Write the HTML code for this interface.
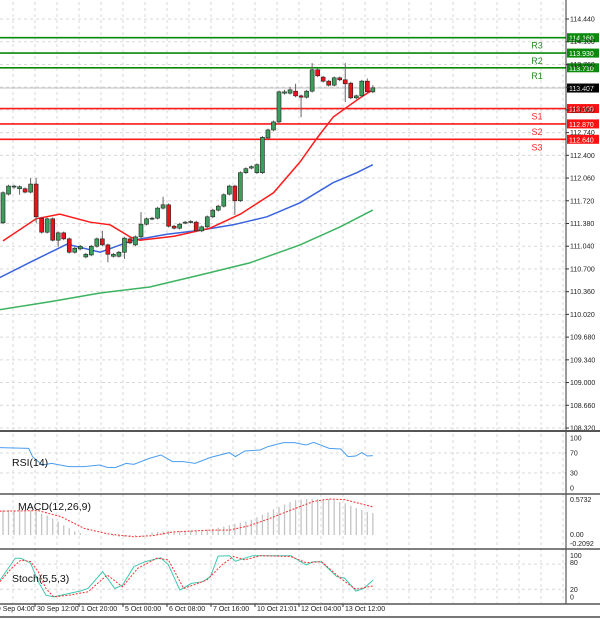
<!DOCTYPE html>
<html><head><meta charset="utf-8"><style>
html,body{margin:0;padding:0;background:#fff;}
svg{display:block;font-family:"Liberation Sans",sans-serif;}
</style></head><body>
<svg id="chart" width="600" height="619" viewBox="0 0 600 619"></svg>
<script>
// ---- data ----
const opens  = [111.39,111.82,111.93,111.90,111.90,111.85,111.97,111.46,111.25,111.45,111.13,111.24,111.15,110.95,111.00,110.88,110.91,111.04,111.15,111.06,110.89,110.89,110.95,111.15,111.06,111.18,111.37,111.45,111.46,111.61,111.66,111.34,111.31,111.39,111.40,111.40,111.27,111.33,111.48,111.58,111.64,111.82,111.94,111.72,112.14,112.21,112.14,112.14,112.66,112.78,112.90,113.33,113.33,113.36,113.29,113.27,113.36,113.68,113.57,113.51,113.45,113.56,113.53,113.48,113.26,113.29,113.51,113.35];
const closes = [111.84,111.94,111.94,111.93,111.85,111.97,111.48,111.25,111.45,111.13,111.24,111.15,110.95,111.01,111.04,110.92,111.04,111.15,111.06,110.92,110.92,110.95,111.16,111.09,111.18,111.37,111.45,111.46,111.61,111.66,111.34,111.31,111.37,111.40,111.41,111.27,111.33,111.48,111.58,111.64,111.81,111.94,111.72,112.14,112.20,112.23,112.26,112.67,112.78,112.90,113.35,113.35,113.38,113.29,113.27,113.36,113.68,113.59,113.51,113.45,113.56,113.53,113.47,113.26,113.29,113.51,113.35,113.41];
const highs  = [111.86,111.96,111.96,111.95,111.92,112.06,112.06,111.48,111.47,111.47,111.26,111.26,111.17,111.03,111.06,110.94,111.06,111.17,111.27,111.08,110.94,110.97,111.18,111.17,111.20,111.55,111.47,111.48,111.63,111.78,111.68,111.36,111.39,111.42,111.43,111.42,111.35,111.50,111.60,111.66,111.83,111.96,111.96,112.16,112.22,112.25,112.28,112.69,112.80,112.92,113.37,113.38,113.42,113.47,113.31,113.38,113.78,113.70,113.59,113.53,113.58,113.58,113.78,113.50,113.31,113.53,113.55,113.45];
const lows   = [111.37,111.80,111.90,111.81,111.83,111.83,111.39,111.23,111.23,111.11,111.03,111.13,110.93,110.93,110.98,110.86,110.89,111.02,111.04,110.80,110.87,110.87,110.85,111.07,111.04,111.16,111.35,111.43,111.44,111.59,111.32,111.29,111.29,111.37,111.38,111.25,111.25,111.31,111.46,111.56,111.62,111.80,111.51,111.70,112.12,112.19,112.12,112.12,112.64,112.76,112.88,113.31,113.31,113.27,112.97,113.25,113.34,113.57,113.49,113.43,113.43,113.51,113.20,113.24,113.24,113.27,113.33,113.33];
const ma1Idx = [0,6,10.3,15.8,19.4,23,24.8,31,37.5,43,49,53.8,56.9,59.8,62.3,64.7,67];
const ma1Val = [111.12,111.45,111.52,111.40,111.36,111.18,111.13,111.19,111.31,111.52,111.84,112.30,112.66,112.97,113.12,113.26,113.38];
const ma2Idx = [-0.6,5.4,11.6,17.6,23.6,29.7,35.7,41.7,47.8,53.8,59.8,64.1,67];
const ma2Val = [110.57,110.82,111.07,110.95,111.13,111.22,111.28,111.36,111.48,111.69,111.99,112.14,112.26];
const ma3Idx = [-0.6,8.5,17.6,26.6,35.7,44.7,53.8,61.1,67];
const ma3Val = [110.09,110.21,110.34,110.43,110.61,110.79,111.06,111.33,111.58];
const levelNames = ["R3","R2","R1","S1","S2","S3"];
const levelVals  = [114.16,113.93,113.71,113.10,112.87,112.64];
const lastPrice = 113.407;
const priceTicks = [114.44,114.10,113.76,113.42,113.08,112.74,112.40,112.06,111.72,111.38,111.04,110.70,110.36,110.02,109.68,109.34,109.00,108.66,108.32];
const rsiIdx = [-0.6,4.66,5.35,7.1,8.8,11.9,14.7,17.5,18.9,20.3,22.3,23.7,26.5,28.6,30.7,32.7,34.8,37.6,41,42.1,43.8,46.6,48,50.8,52.8,54.9,56.3,59.1,61.2,62.5,63.9,65,66,67];
const rsiVal = [80.7,79.3,62.7,46,49.3,42.7,42.7,46,41.3,40.7,49.3,47.3,59.3,66,52.7,52.7,49.3,61.3,70.7,62.7,74,76,82.7,90.7,90.7,86,91.3,79.3,78,62.7,64,70.7,64,64.7];
const macdHist = [.41,.41,.41,.41,.41,.40,.39,.35,.32,.27,.22,.16,.11,.06,.03,.01,0,0,0,0,-.02,-.03,-.03,-.03,-.02,-.01,.01,.04,.05,.06,.06,.06,.06,.06,.07,.07,.08,.09,.10,.12,.14,.16,.18,.20,.22,.25,.29,.33,.37,.42,.46,.50,.54,.57,.58,.59,.59,.59,.59,.59,.57,.54,.52,.48,.44,.41,.38,.36];
const macdSigIdx = [-0.6,6.4,10.5,14.7,18.9,23.7,27.2,30.7,37.6,41,44.5,48,52.2,56.3,59.1,61.9,67];
const macdSigVal = [.39,.40,.30,.11,.02,-.03,-.01,.05,.08,.08,.15,.26,.41,.55,.59,.58,.46];
const stochKZx = [0,40,55,80,100,120,140,180,210,230,268,300,320,350,380,420,440,470,500,530,550,570,600,615,640,660,720,760,800,820,840,880,900,930,950,975];
const stochKVal = [42,94,94,82,38,6,2,10,16,22,62,22,30,74,86,95,78,18,34,38,50,99,100,87,94,100,100,100,78,86,85,50,47,16,22,42];
const stochDZx = [0,30,55,80,100,120,140,180,230,280,320,360,410,440,480,540,580,610,640,680,760,800,840,890,930,975];
const stochDVal = [38,70,90,86,62,22,2,6,14,54,26,70,94,90,22,42,78,98,90,100,98,83,86,46,20,28];
const timeLabels = ["29 Sep 04:00","30 Sep 12:00","1 Oct 20:00","5 Oct 00:00","6 Oct 08:00","7 Oct 16:00","10 Oct 21:01","12 Oct 04:00","13 Oct 12:00"];

// ---- scales ----
const NS="http://www.w3.org/2000/svg";
const svg=document.getElementById('chart');
const PR=566;
const X=i=>3+5.52*i;
const XZ=zx=>zx/2.613;
const IX=zx=>(XZ(zx)-3)/5.52;
const Y=p=>19+(114.44-p)*66.83;
const YR=v=>488-v*0.5;
const YM=v=>535-v*61;
const YS=v=>597.7-v*0.42;
function el(tag,attrs,parent){const e=document.createElementNS(NS,tag);for(const k in attrs)e.setAttribute(k,attrs[k]);(parent||svg).appendChild(e);return e;}
function txt(x,y,s,size,fill,parent,anchor){const t=el('text',{x:x,y:y,'font-size':size,fill:fill||'#000','text-anchor':anchor||'start'},parent);t.textContent=s;return t;}

// grid
const grid=el('g',{});


for(let gx=13;gx<PR;gx+=22){el('line',{x1:gx,y1:2,x2:gx,y2:603,stroke:'#d8d8d8','stroke-dasharray':'3,3','stroke-width':1},grid);}
priceTicks.forEach(p=>el('line',{x1:0,y1:Y(p),x2:PR,y2:Y(p),stroke:'#d8d8d8','stroke-dasharray':'3,3'},grid));
[70,30].forEach(v=>el('line',{x1:0,y1:YR(v),x2:PR,y2:YR(v),stroke:'#d8d8d8','stroke-dasharray':'3,3'},grid));
[80,20].forEach(v=>el('line',{x1:0,y1:YS(v),x2:PR,y2:YS(v),stroke:'#d8d8d8','stroke-dasharray':'3,3'},grid));

// levels
levelVals.forEach((v,k)=>{
  const isR=k<3;const c=isR?'#0a8a0a':'#ff1a1a';const y=Y(v);
  const g=el('g',{});
  
  
  el('line',{x1:0,y1:y,x2:PR,y2:y,stroke:c,'stroke-width':1.6},g);
  txt(537,y+11,levelNames[k],9,isR?'#2a8a2a':'#ff2a2a',g,'middle');
  el('rect',{x:PR+1,y:y-4.5,width:32,height:9,fill:isR?'#0a8a0a':'#ff1010'},g);
  txt(PR+3,y+3,v.toFixed(3),7,'#fff',g);
});
// last price line
const lp=el('g',{});


el('line',{x1:0,y1:Y(lastPrice),x2:PR,y2:Y(lastPrice),stroke:'#c0c0c0','stroke-width':1},lp);
el('rect',{x:PR+1,y:Y(lastPrice)-4.5,width:32,height:9,fill:'#000'},lp);
txt(PR+3,Y(lastPrice)+3,lastPrice.toFixed(3),7,'#fff',lp);

// MAs
function poly(idx,val,fy,color,name,w){
  const pts=idx.map((i,k)=>X(i).toFixed(1)+','+fy(val[k]).toFixed(1)).join(' ');
  const p=el('polyline',{points:pts,fill:'none',stroke:color,'stroke-width':w||1.5});
  
  
  return p;
}
poly(ma3Idx,ma3Val,Y,'#3cb360','ma-slow');
poly(ma2Idx,ma2Val,Y,'#3a63e0','ma-medium');
poly(ma1Idx,ma1Val,Y,'#ff1a1a','ma-fast');

// candles
const cg=el('g',{});


opens.forEach((o,i)=>{
  const c=closes[i];const x=X(i);const up=c>=o;
  const g=el('g',{},cg);
  
  
  el('line',{x1:x,y1:Y(highs[i]),x2:x,y2:Y(lows[i]),stroke:'#666','stroke-width':1},g);
  const top=Y(Math.max(o,c)),bot=Y(Math.min(o,c));
  el('rect',{x:x-2,y:top,width:4,height:Math.max(bot-top,1),fill:up?'#3c9e5c':'#e8141a',stroke:'#222','stroke-width':0.6},g);
});

// price axis
const ax=el('g',{});


el('line',{x1:PR,y1:0,x2:PR,y2:604,stroke:'#333','stroke-width':1},ax);
priceTicks.forEach(p=>{
  const y=Y(p);
  if([114.10,113.76,113.42,113.08].includes(p)){}
  el('line',{x1:PR,y1:y,x2:PR+3,y2:y,stroke:'#333'},ax);
  txt(PR+4,y+2.5,p.toFixed(3),7,'#222',ax);
});

// panel separators
[[431,2],[494,1.5],[549,1.5],[604,1.5]].forEach(([y,w])=>{
  const l=el('line',{x1:0,y1:y,x2:600,y2:y,stroke:'#555','stroke-width':w});
  
  
});

// RSI
const rsiLine=poly(rsiIdx,rsiVal,YR,'#4a9ef0','rsi-line',1);
const rl=txt(12,466,'RSI(14)',10.5,'#111');


[[100,'100'],[70,'70'],[30,'30'],[0,'0']].forEach(([v,s])=>txt(570,YR(v)+2.5,s,7,'#222'));

// MACD
const mg=el('g',{});


macdHist.forEach((v,i)=>{
  const b=el('line',{x1:X(i),y1:YM(0),x2:X(i),y2:YM(v),stroke:'#c4c4c4','stroke-width':1.3},mg);
  
});
const ms=poly(macdSigIdx,macdSigVal,YM,'#ff3030','macd-signal',1);
ms.setAttribute('stroke-dasharray','2,1.5');
const ml=txt(18,510,'MACD(12,26,9)',10.5,'#111');


txt(570,502,'0.5732',7,'#222');txt(570,537,'0.00',7,'#222');txt(570,546,'-0.2092',7,'#222');

// Stoch
function polyZ(zx,val,color,name){
  const pts=zx.map((z,k)=>X(IX(z)).toFixed(1)+','+YS(val[k]).toFixed(1)).join(' ');
  const p=el('polyline',{points:pts,fill:'none',stroke:color,'stroke-width':1});
  
  
  return p;
}
polyZ(stochKZx,stochKVal,'#3cc8b0','stoch-k');
polyZ(stochDZx,stochDVal,'#ff3030','stoch-d').setAttribute('stroke-dasharray','2,1.5');
const sl=txt(12,582,'Stoch(5,5,3)',10.5,'#111');


[[100,'100'],[84,'80'],[20,'20'],[2,'0']].forEach(([v,s])=>txt(570,YS(v)+2.5,s,7,'#222'));

// time axis
const tg=el('g',{});


timeLabels.forEach((s,k)=>{
  const x=-9+44*k;
  el('line',{x1:x,y1:604,x2:x,y2:607,stroke:'#333'},tg);
  txt(x+2,611,s,7,'#222',tg);
});
el('line',{x1:0,y1:617,x2:600,y2:617,stroke:'#777','stroke-width':2});
</script>
</body></html>
